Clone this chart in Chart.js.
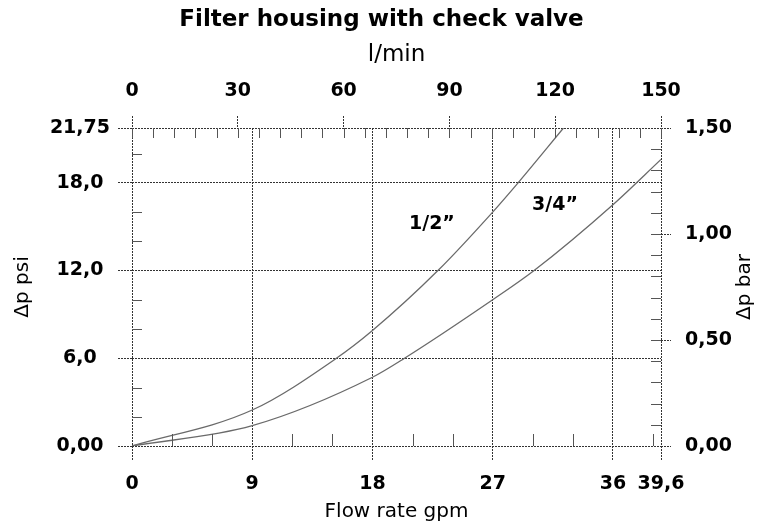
<html>
  <head>
    <meta charset="utf-8">
    <script src="https://cdn.jsdelivr.net/npm/chart.js@4.4.1/dist/chart.umd.min.js"></script>
    <style>
      html, body { margin: 0; padding: 0; background: #fff; }
    </style>
    <script>
      // axis ticks (bottom gpm, top l/min, left psi, right bar)
      var gpmTicks = [0, 9, 18, 27, 36, 39.6]
      var gpmLabels = ['0', '9', '18', '27', '36', '39,6']
      var lpmTicks = [0, 30, 60, 90, 120, 150]
      var lpmLabels = ['0', '30', '60', '90', '120', '150']
      var psiTicks = [0, 6, 12, 18, 21.75]
      var psiLabels = ['0,00', '6,0', '12,0', '18,0', '21,75']
      var barTicks = [0, 0.5, 1.0, 1.5]
      var barLabels = ['0,00', '0,50', '1,00', '1,50']
      // small inner tick marks
      var gpmMinor = [3, 6, 12, 15, 21, 24, 30, 33, 39]
      var lpmMinor = [0, 6, 12, 18, 24, 30, 36, 42, 48, 54, 60, 66, 72, 78, 84, 90, 96, 102, 108, 114, 120, 126, 132, 138, 144, 150]
      var psiMinor = [2, 4, 8, 10, 14, 16, 20]
      var barMinor = [0.1, 0.2, 0.3, 0.4, 0.5, 0.6, 0.7, 0.8, 0.9, 1.0, 1.1, 1.2, 1.3, 1.4]

      // curves: flow (gpm) vs pressure drop (psi)
      var seriesNames = ['1/2\u201d', '3/4\u201d']
      var flowHalf = [0, 9, 15.3, 18, 22.9, 27, 28.9, 32.3]
      var dpHalf = [0, 2.46, 6.0, 7.9, 12.0, 16.0, 18.0, 21.75]
      var flowThreeQ = [0, 9, 18, 20.4, 27, 30.1, 36, 39.6]
      var dpThreeQ = [0, 1.39, 4.7, 6.0, 10.0, 12.0, 16.5, 19.6]

      var lineCol = '#333'
      var tickFont = { family: 'DejaVu Sans', size: 19, weight: 'bold' }
      var titleFont = { family: 'DejaVu Sans', size: 20 }

      function pts(xs, ys) {
        return xs.map(function (x, i) { return { x: x, y: ys[i] } })
      }
      function fixedTicks(values) {
        return function (scale) {
          scale.ticks = values.map(function (v) { return { value: v } })
        }
      }
      function labelsFrom(labels) {
        return function (v, i) { return labels[i] }
      }

      var extras = {
        id: 'extras',
        afterDraw: function (chart) {
          var ctx = chart.ctx, a = chart.chartArea, s = chart.scales
          ctx.save()
          ctx.strokeStyle = '#555'
          ctx.lineWidth = 1
          ctx.beginPath()
          lpmMinor.forEach(function (v) {
            var x = Math.round(s.x2.getPixelForValue(v)) + 0.5
            ctx.moveTo(x, a.top); ctx.lineTo(x, a.top + 10)
          })
          gpmMinor.forEach(function (v) {
            var x = Math.round(s.x.getPixelForValue(v)) + 0.5
            ctx.moveTo(x, a.bottom); ctx.lineTo(x, a.bottom - 12)
          })
          psiMinor.forEach(function (v) {
            var y = Math.round(s.y.getPixelForValue(v)) + 0.5
            ctx.moveTo(a.left, y); ctx.lineTo(a.left + 10, y)
          })
          barMinor.forEach(function (v) {
            var y = Math.round(s.y2.getPixelForValue(v)) + 0.5
            ctx.moveTo(a.right, y); ctx.lineTo(a.right - 10, y)
          })
          ctx.stroke()
          // curve names
          ctx.fillStyle = '#000'
          ctx.font = 'bold 19px "DejaVu Sans"'
          ctx.textAlign = 'center'
          ctx.textBaseline = 'middle'
          ctx.fillText(seriesNames[0], s.x.getPixelForValue(22.45), s.y.getPixelForValue(15.2))
          ctx.fillText(seriesNames[1], s.x.getPixelForValue(31.66), s.y.getPixelForValue(16.45))
          // right axis title, reading upwards like the left one
          ctx.font = '20px "DejaVu Sans"'
          ctx.translate(a.right + 84, (a.top + a.bottom) / 2)
          ctx.rotate(-Math.PI / 2)
          ctx.fillText('\u0394p bar', 0, 0)
          ctx.restore()
        }
      }

      function init() {
        Chart.defaults.color = '#000'
        Chart.defaults.font.family = 'DejaVu Sans'
        new Chart(document.getElementById('chart'), {
          type: 'line',
          data: {
            datasets: [
              { label: seriesNames[0], data: pts(flowHalf, dpHalf), borderColor: '#6a6a6a', borderWidth: 1.3,
                pointRadius: 0, cubicInterpolationMode: 'monotone', fill: false },
              { label: seriesNames[1], data: pts(flowThreeQ, dpThreeQ), borderColor: '#6a6a6a', borderWidth: 1.3,
                pointRadius: 0, cubicInterpolationMode: 'monotone', fill: false },
            ],
          },
          options: {
            responsive: false,
            animation: false,
            layout: { padding: 0 },
            plugins: {
              legend: { display: false },
              tooltip: { enabled: false },
              title: {
                display: true,
                text: 'Filter housing with check valve',
                font: { family: 'DejaVu Sans', size: 23, weight: 'bold' },
                padding: { top: 6, bottom: 0 },
              },
            },
            scales: {
              x: {
                type: 'linear', position: 'bottom', min: 0, max: 39.6,
                afterBuildTicks: fixedTicks(gpmTicks),
                afterFit: function (s) { s.height = 84 },
                ticks: { callback: labelsFrom(gpmLabels), font: tickFont, padding: 13, maxRotation: 0, autoSkip: false },
                grid: { color: lineCol, tickLength: 14, tickColor: lineCol, tickBorderDash: [2, 1] },
                border: { display: false, dash: [2, 1] },
                title: { display: true, text: 'Flow rate gpm', font: titleFont, padding: { top: 0, bottom: 6 } },
              },
              x2: {
                type: 'linear', axis: 'x', position: 'top', min: 0, max: 150,
                afterBuildTicks: fixedTicks(lpmTicks),
                afterFit: function (s) { s.height = 94.4 },
                ticks: { callback: labelsFrom(lpmLabels), font: tickFont, padding: 14, maxRotation: 0, autoSkip: false },
                grid: { drawOnChartArea: false, color: lineCol, tickLength: 12, tickColor: lineCol, tickBorderDash: [2, 1] },
                border: { display: false },
                title: { display: true, text: 'l/min', font: { family: 'DejaVu Sans', size: 23 }, padding: { top: 8, bottom: 0 } },
              },
              y: {
                type: 'linear', position: 'left', min: 0, max: 21.75,
                afterBuildTicks: fixedTicks(psiTicks),
                afterFit: function (s) { s.width = 132 },
                ticks: { callback: labelsFrom(psiLabels), font: tickFont, padding: 8, crossAlign: 'center', autoSkip: false },
                grid: { color: lineCol, tickLength: 14, tickColor: lineCol, tickBorderDash: [2, 1] },
                border: { display: false, dash: [2, 1] },
                title: { display: true, text: '\u0394p psi', font: titleFont, padding: { top: 11, bottom: 0 } },
              },
              y2: {
                type: 'linear', axis: 'y', position: 'right', min: 0, max: 1.5,
                afterBuildTicks: fixedTicks(barTicks),
                afterFit: function (s) { s.width = 102 },
                ticks: { callback: labelsFrom(barLabels), font: tickFont, padding: 14, autoSkip: false },
                grid: { drawOnChartArea: false, color: lineCol, tickLength: 10, tickColor: lineCol, tickBorderDash: [2, 1] },
                border: { display: false },
              },
            },
          },
          plugins: [extras],
        })
      }
    </script>
  </head>
  <body onload="init()">
    <canvas id="chart" width="763" height="530"></canvas>
  </body>
</html>
